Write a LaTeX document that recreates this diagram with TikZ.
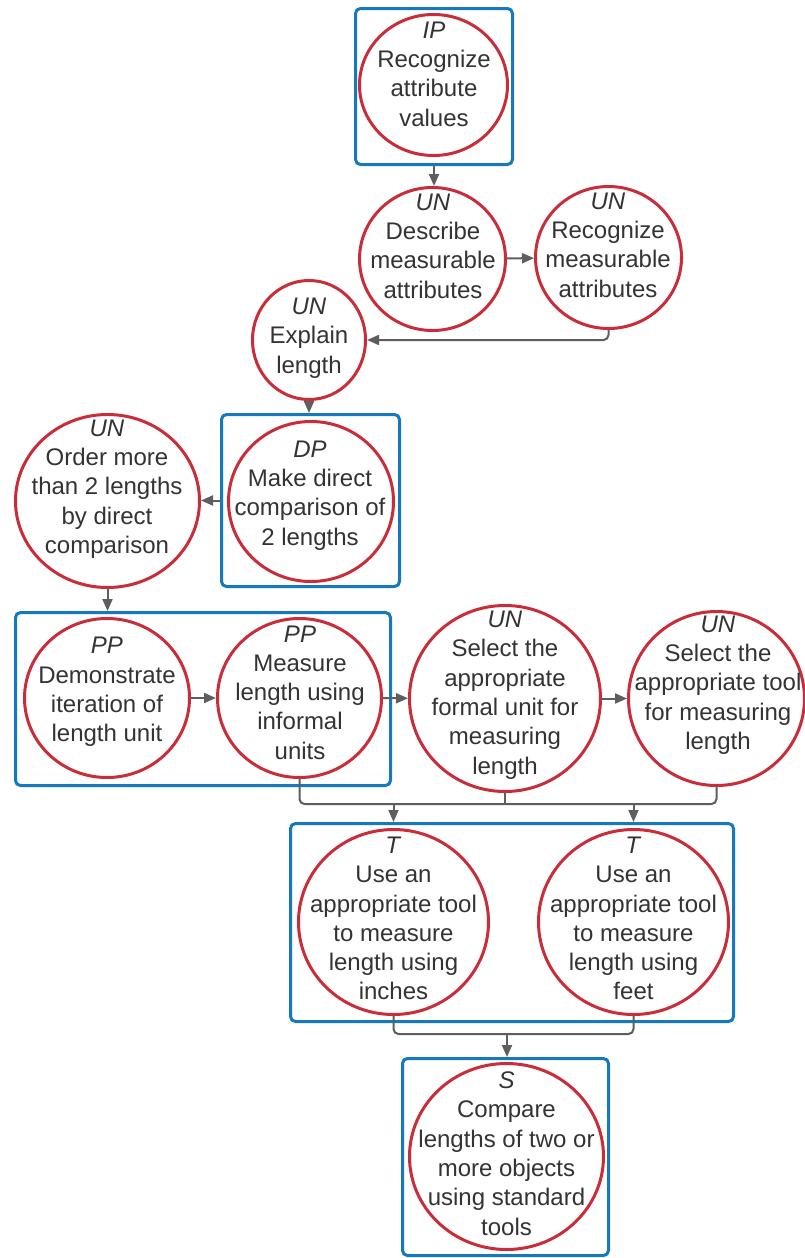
\documentclass[tikz,border=0pt]{standalone}
\usepackage{fontspec}
\setmainfont{Liberation Sans}
\usetikzlibrary{arrows.meta,shapes.geometric,fit}
\definecolor{goalred}{RGB}{201,45,57}
\definecolor{groupblue}{RGB}{22,120,190}
\definecolor{linkgray}{RGB}{94,94,94}
\definecolor{textgray}{RGB}{51,51,51}

\begin{document}
\begin{tikzpicture}[x=0.5pt,y=-0.5pt,
  goal/.style={ellipse,draw=goalred,line width=1.5pt,fill=white,inner sep=0pt},
  txt/.style={align=center,inner sep=0pt,text=textgray,font=\fontsize{12}{14.65}\selectfont},
  grp/.style={draw=groupblue,line width=1.5pt,rounded corners=2.5pt,inner sep=0pt},
  link/.style={draw=linkgray,line width=1pt,rounded corners=2.5pt},
  arr/.style={link,-{Triangle[length=6pt,width=5pt]}}]
\useasboundingbox[fill=white] (0,0) rectangle (804,1258);

% groups
\node[grp,fit={(355.5,8.5) (512.5,164.5)}] (ipbox) {};
\node[grp,fit={(221.5,414.5) (399.5,586.5)}] (dpbox) {};
\node[grp,fit={(15.5,612.5) (390.5,785.5)}] (ppbox) {};
\node[grp,fit={(290.5,823.5) (733.5,1021.5)}] (tbox) {};
\node[grp,fit={(402.5,1058.5) (608.5,1255.5)}] (sbox) {};

% goals
\node[goal,minimum width=74pt,minimum height=70.5pt] (ip) at (433.5,85) {};
\node[goal,minimum width=73pt,minimum height=71.5pt] (desc) at (432.5,259) {};
\node[goal,minimum width=73pt,minimum height=71pt] (recm) at (608.5,257.5) {};
\node[goal,minimum width=56.5pt,minimum height=59.5pt] (expl) at (309,340) {};
\node[goal,minimum width=82.5pt,minimum height=80pt] (dp) at (311,501.5) {};
\node[goal,minimum width=92pt,minimum height=86.5pt] (order) at (107.5,501) {};
\node[goal,minimum width=82.5pt,minimum height=79.5pt] (demo) at (107,698) {};
\node[goal,minimum width=82pt,minimum height=79.5pt] (meas) at (299.5,698) {};
\node[goal,minimum width=95.5pt,minimum height=93pt] (formal) at (505,698.5) {};
\node[goal,minimum width=88pt,minimum height=87pt] (tool) at (716.5,698.5) {};
\node[goal,minimum width=95pt,minimum height=92.5pt] (tin) at (393.5,922) {};
\node[goal,minimum width=95pt,minimum height=92.5pt] (tfeet) at (633.5,922) {};
\node[goal,minimum width=97pt,minimum height=93pt] (s) at (506.5,1156.5) {};

% texts
\node[txt] (ip-t) at (434,74) {\textit{IP}\\Recognize\\attribute\\values};
\node[txt] (desc-t) at (433,246) {\textit{UN}\\Describe\\measurable\\attributes};
\node[txt] (recm-t) at (608,245) {\textit{UN}\\Recognize\\measurable\\attributes};
\node[txt] (expl-t) at (309,338) {\textit{UN}\\Explain\\length};
\node[txt] (dp-t) at (310,495.5) {\textit{DP}\\Make direct\\comparison of\\2 lengths};
\node[txt] (order-t) at (107,489) {\textit{UN}\\Order more\\than 2 lengths\\by direct\\comparison};
\node[txt] (demo-t) at (107,692) {\textit{PP}\\Demonstrate\\iteration of\\length unit};
\node[txt] (meas-t) at (300,692.5) {\textit{PP}\\Measure\\length using\\informal\\units};
\node[txt] (formal-t) at (505,695) {\textit{UN}\\Select the\\appropriate\\formal unit for\\measuring\\length};
\node[txt] (tool-t) at (718,685) {\textit{UN}\\Select the\\appropriate tool\\for measuring\\length};
\node[txt] (tin-t) at (393.5,918.5) {\textit{T}\\Use an\\appropriate tool\\to measure\\length using\\inches};
\node[txt] (tfeet-t) at (633.5,918.5) {\textit{T}\\Use an\\appropriate tool\\to measure\\length using\\feet};
\node[txt] (s-t) at (506.5,1153.5) {\textit{S}\\Compare\\lengths of two or\\more objects\\using standard\\tools};

% links
\draw[arr] (ipbox.south) -- (ipbox.south |- desc.north);
\draw[arr] (desc) -- (recm);
\draw[arr] (recm.south) |- (expl.east);
\draw[arr] (expl.south) -- (expl.south |- dpbox.north);
\draw[arr] (dpbox.west) -- (dpbox.west -| order.east);
\draw[arr] (order.south) -- (order.south |- ppbox.north);
\draw[arr] (demo) -- (meas);
\draw[arr] (meas) -- (formal);
\draw[arr] (formal) -- (tool);
\coordinate (m1) at (505,804);
\draw[link] (meas.south) |- (m1);
\draw[link] (tool.south) |- (m1);
\draw[link] (formal.south) -- (m1);
\draw[arr] (tin.north |- m1) -- (tin.north |- tbox.north);
\draw[arr] (tfeet.north |- m1) -- (tfeet.north |- tbox.north);
\coordinate (m2) at (507,1034);
\draw[link] (tin.south) |- (m2) -| (tfeet.south);
\draw[arr] (m2) -- (m2 |- sbox.north);
\end{tikzpicture}
\end{document}
